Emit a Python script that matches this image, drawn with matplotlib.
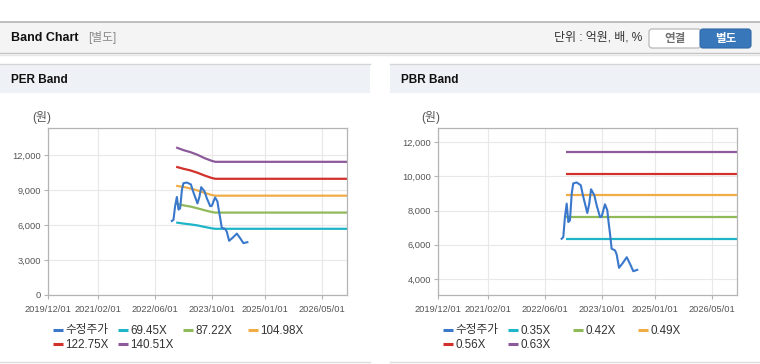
import pandas as pd
import matplotlib
matplotlib.use("Agg")
import matplotlib.pyplot as plt
import matplotlib.dates as mdates
from matplotlib.patches import Rectangle, FancyBboxPatch
from matplotlib.ticker import FuncFormatter

plt.rcParams['font.family'] = ['Liberation Sans', 'Noto Sans CJK KR', 'DejaVu Sans']

# adjusted close price (수정주가)
price_dates = ["2022-10-25", "2022-11-08", "2022-11-22", "2022-12-07", "2022-12-21",
               "2023-01-04", "2023-01-19", "2023-02-01", "2023-03-02", "2023-04-06",
               "2023-04-28", "2023-06-01", "2023-06-18", "2023-07-03", "2023-07-31",
               "2023-08-20", "2023-09-18", "2023-10-02", "2023-10-16", "2023-10-30",
               "2023-11-19", "2023-11-28", "2023-12-12", "2023-12-26", "2024-01-24",
               "2024-02-07", "2024-02-27", "2024-03-29", "2024-05-03", "2024-05-31",
               "2024-06-28", "2024-08-01"]
price = [6350, 6450, 7620, 8410, 7330, 7430, 9000, 9590, 9650, 9490,
         8800, 7860, 8410, 9250, 8900, 8310, 7620, 7650, 8020, 8370,
         8020, 7430, 6650, 5770, 5670, 5430, 4650, 4920, 5270, 4880,
         4450, 4530]

# PER band lines
per_dates = ["2022-12-01", "2023-02-01", "2023-04-01", "2023-06-01",
             "2023-08-01", "2023-10-01", "2023-11-01", "2026-12-01"]
per_labels = ["69.45X", "87.22X", "104.98X", "122.75X", "140.51X"]
per_bands = [
    [6220, 6130, 6060, 5970, 5840, 5720, 5680, 5680],
    [7840, 7690, 7590, 7440, 7270, 7120, 7070, 7070],
    [9370, 9270, 9140, 8970, 8760, 8580, 8520, 8520],
    [11000, 10830, 10690, 10490, 10250, 10040, 9970, 9970],
    [12660, 12430, 12260, 12030, 11740, 11510, 11425, 11425],
]

# PBR band lines
pbr_dates = ["2022-12-01", "2026-12-01"]
pbr_labels = ["0.35X", "0.42X", "0.49X", "0.56X", "0.63X"]
pbr_bands = [
    [6330, 6330],
    [7610, 7610],
    [8890, 8890],
    [10150, 10150],
    [11440, 11440],
]

xtick_dates = ["2019-12-01", "2021-02-01", "2022-06-01", "2023-10-01", "2025-01-01", "2026-05-01"]
per_yticks = [0, 3000, 6000, 9000, 12000]
pbr_yticks = [4000, 6000, 8000, 10000, 12000]

price_color = "#3a78cc"
band_colors = ["#1fb5c8", "#90b95a", "#f0ad46", "#d2302a", "#8c5a9a"]

fig = plt.figure(figsize=(7.6, 3.64), dpi=100)
fig.patch.set_facecolor("white")

# page decoration drawn in pixel coordinates
bg = fig.add_axes([0, 0, 1, 1], zorder=0)
bg.set_xlim(0, 760)
bg.set_ylim(364, 0)
bg.axis("off")

bg.add_patch(Rectangle((0, 22), 760, 31, facecolor="#f4f4f4", edgecolor="none"))
bg.plot([0, 760], [22, 22], color="#b4b4b4", lw=1.2)
bg.plot([0, 760], [53, 53], color="#c4c4c4", lw=1.0)
bg.plot([0, 760], [54.5, 54.5], color="#e6e6e6", lw=1.0)
bg.text(11, 38, "Band Chart", fontsize=9, fontweight="bold", color="#111111", va="center")
bg.text(88, 38, "[별도]", fontsize=8.5, color="#8a8a8a", va="center")
bg.text(642, 38, "단위 : 억원, 배, %", fontsize=8.6, color="#333333", va="center", ha="right")
bg.add_patch(FancyBboxPatch((649, 29), 52, 19, boxstyle="round,pad=0,rounding_size=3",
                            facecolor="white", edgecolor="#b0b0b0", lw=0.8))
bg.text(675, 39, "연결", fontsize=8.3, fontweight="bold", color="#707070", ha="center", va="center")
bg.add_patch(FancyBboxPatch((700, 29), 51, 19, boxstyle="round,pad=0,rounding_size=3",
                            facecolor="#3977bb", edgecolor="#2f68a8", lw=0.8))
bg.text(725.5, 39, "별도", fontsize=8.3, fontweight="bold", color="white", ha="center", va="center")

for x0, title in [(0, "PER Band"), (390, "PBR Band")]:
    bg.add_patch(Rectangle((x0, 64), 370, 29, facecolor="#eef2f7", edgecolor="none"))
    bg.plot([x0, x0 + 370], [64, 64], color="#d5d5d5", lw=1.0)
    bg.plot([x0, x0 + 370], [362, 362], color="#dcdcdc", lw=1.0)
    bg.text(x0 + 11, 80, title, fontsize=8.5, fontweight="bold", color="#111111", va="center")


def draw_panel(rect, band_dates, bands, labels, yticks, ylim, unit_x, leg_x):
    ax = fig.add_axes(rect, zorder=1)
    ax.set_facecolor("white")
    x_price = pd.to_datetime(price_dates)
    x_band = pd.to_datetime(band_dates)
    for vals, c in zip(bands, band_colors):
        ax.plot(x_band, vals, color=c, lw=1.6, solid_capstyle="butt")
    ax.plot(x_price, price, color=price_color, lw=1.5)

    ax.set_xlim(pd.Timestamp("2019-12-01"), pd.Timestamp("2026-12-01"))
    ax.set_ylim(*ylim)
    ax.set_xticks(pd.to_datetime(xtick_dates))
    ax.xaxis.set_major_formatter(mdates.DateFormatter("%Y/%m/%d"))
    ax.set_yticks(yticks)
    ax.yaxis.set_major_formatter(FuncFormatter(lambda v, p: f"{int(v):,}"))
    ax.grid(True, color="#e8e8e8", lw=0.8)
    ax.set_axisbelow(True)
    for s in ax.spines.values():
        s.set_color("#b4b4b4")
        s.set_linewidth(0.9)
    ax.tick_params(axis="both", length=3, width=0.8, color="#b4b4b4",
                   labelsize=6.7, labelcolor="#555555", pad=2)
    ax.tick_params(axis="x", pad=4)

    bg.text(unit_x, 118, "(원)", fontsize=8.6, color="#555555", va="center")

    # legend, four fixed-width columns
    names = ["수정주가"] + labels
    colors = [price_color] + band_colors
    for i, (n, c) in enumerate(zip(names, colors)):
        col, row = i % 4, i // 4
        lx = leg_x + col * 65
        ly = 330 + row * 14
        bg.plot([lx, lx + 10], [ly, ly], color=c, lw=2.2, solid_capstyle="butt")
        bg.text(lx + 12.5, ly + 0.5, n, fontsize=8.4, color="#333333", va="center")
    return ax


draw_panel([48 / 760, 69 / 364, 299 / 760, 166.8 / 364], per_dates, per_bands, per_labels,
           per_yticks, (0, 14310), 32, 53)
draw_panel([437.7 / 760, 68.7 / 364, 299.3 / 760, 167 / 364], pbr_dates, pbr_bands, pbr_labels,
           pbr_yticks, (3040, 12820), 421, 442.7)

fig.savefig("out.png", dpi=100)
